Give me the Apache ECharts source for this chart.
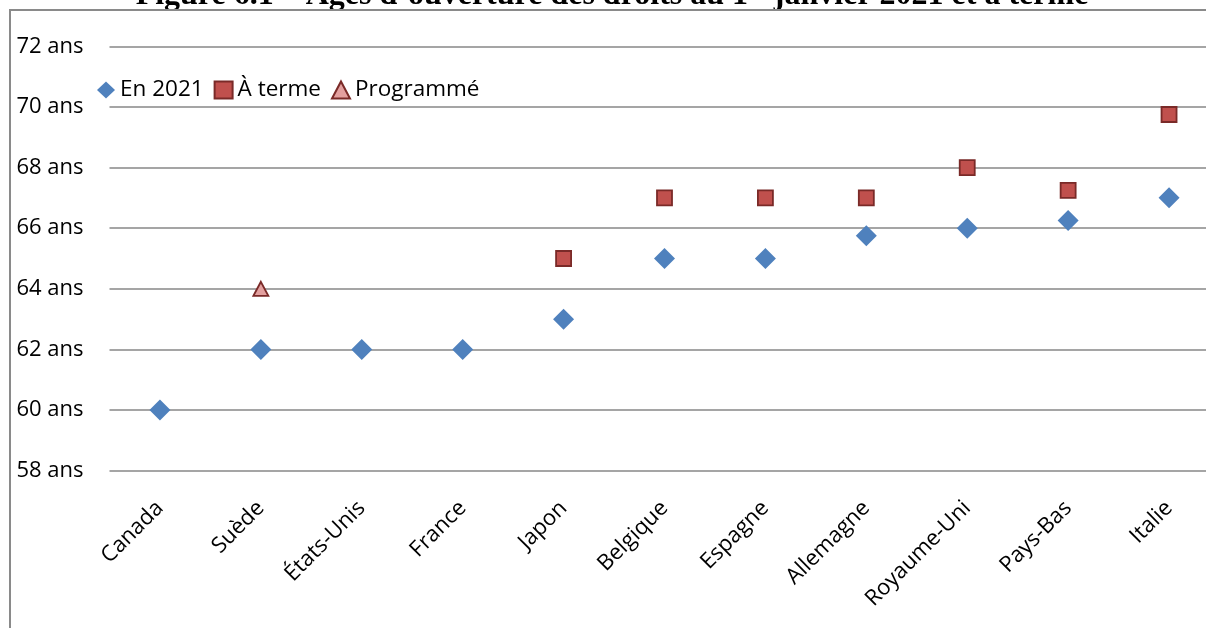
<!DOCTYPE html>
<html>
<head>
<meta charset="utf-8">
<script src="https://cdn.jsdelivr.net/npm/echarts@6/dist/echarts.min.js"></script>
<style>
  html, body { margin: 0; padding: 0; background: #fff; overflow: hidden; width: 1206px; height: 628px; }
  #chart { width: 1240px; height: 628px; }
</style>
</head>
<body>
<div id="chart"></div>
<script>
// Pays étudiés
const countries = ['Canada', 'Suède', 'États-Unis', 'France', 'Japon', 'Belgique',
  'Espagne', 'Allemagne', 'Royaume-Uni', 'Pays-Bas', 'Italie'];

// Âge d'ouverture des droits en 2021 (années)
const ageEn2021 = [60, 62, 62, 62, 63, 65, 65, 65.75, 66, 66.25, 67];

// Âge à terme, selon la législation en vigueur ('-' : inchangé)
const ageATerme = ['-', '-', '-', '-', 65, 67, 67, 67, 68, 67.25, 69.75];

// Âge programmé (Suède)
const ageProgramme = ['-', 64, '-', '-', '-', '-', '-', '-', '-', '-', '-'];

// Graduations de l'axe vertical
const yMin = 58, yMax = 72, yStep = 2;

const FONT = '"Open Sans", "Noto Sans", sans-serif';
const SERIF = '"Liberation Serif", "DejaVu Serif", serif';

const chart = echarts.init(document.getElementById('chart'), null, { renderer: 'canvas' });

chart.setOption({
  animation: false,
  backgroundColor: '#ffffff',
  textStyle: { fontFamily: FONT },
  graphic: [
    {
      type: 'text',
      x: 612,
      y: 13,
      style: {
        text: '{t|Figure 6.1 – Âges d\u2019ouverture des droits au 1}{s|er}{t| janvier 2021 et à terme}',
        align: 'center',
        verticalAlign: 'bottom',
        rich: {
          t: { fontFamily: SERIF, fontWeight: 'bold', fontSize: 32, fill: '#000' },
          s: { fontFamily: SERIF, fontWeight: 'bold', fontSize: 20, fill: '#000', padding: [0, 0, 14, 0] }
        }
      }
    },
    {
      type: 'polyline',
      shape: { points: [[10, 640], [10, 10], [1240, 10]] },
      style: { stroke: '#8a8a8a', lineWidth: 2, fill: null }
    }
  ],
  legend: {
    left: 92,
    top: 73,
    itemWidth: 18,
    itemHeight: 17,
    itemGap: 10,
    textStyle: { fontFamily: FONT, fontSize: 22.5, color: '#000', lineHeight: 24 },
    data: [
      { name: 'En 2021', icon: 'diamond' },
      { name: 'À terme', icon: 'rect' },
      { name: 'Programmé', icon: 'triangle' }
    ]
  },
  grid: {
    left: 109.5,
    top: 46.3,
    width: 1110,
    height: 424.4,
    containLabel: false
  },
  xAxis: {
    type: 'category',
    data: countries,
    boundaryGap: true,
    axisLine: { show: false },
    axisTick: { show: false },
    axisLabel: {
      interval: 0,
      rotate: 45,
      margin: 34,
      fontFamily: FONT,
      fontSize: 22,
      color: '#000'
    },
    splitLine: { show: false }
  },
  yAxis: {
    type: 'value',
    min: yMin,
    max: yMax,
    interval: yStep,
    axisLine: { show: false },
    axisTick: { show: false },
    axisLabel: {
      formatter: '{value} ans',
      margin: 26,
      fontFamily: FONT,
      fontSize: 22,
      color: '#000'
    },
    splitLine: { show: true, lineStyle: { color: '#878787', width: 1.6 } }
  },
  series: [
    {
      name: 'En 2021',
      type: 'scatter',
      symbol: 'diamond',
      symbolSize: 21,
      itemStyle: { color: '#4f81bd', opacity: 1 },
      data: ageEn2021,
      z: 3
    },
    {
      name: 'À terme',
      type: 'scatter',
      symbol: 'rect',
      symbolSize: 15,
      itemStyle: { color: '#c0504d', borderColor: '#7a2a28', borderWidth: 1.8, opacity: 1 },
      data: ageATerme,
      z: 4
    },
    {
      name: 'Programmé',
      type: 'scatter',
      symbol: 'triangle',
      symbolSize: [15, 14],
      itemStyle: { color: '#e3a09f', borderColor: '#7a2a28', borderWidth: 1.8, opacity: 1 },
      data: ageProgramme,
      z: 4
    }
  ]
});
</script>
</body>
</html>
